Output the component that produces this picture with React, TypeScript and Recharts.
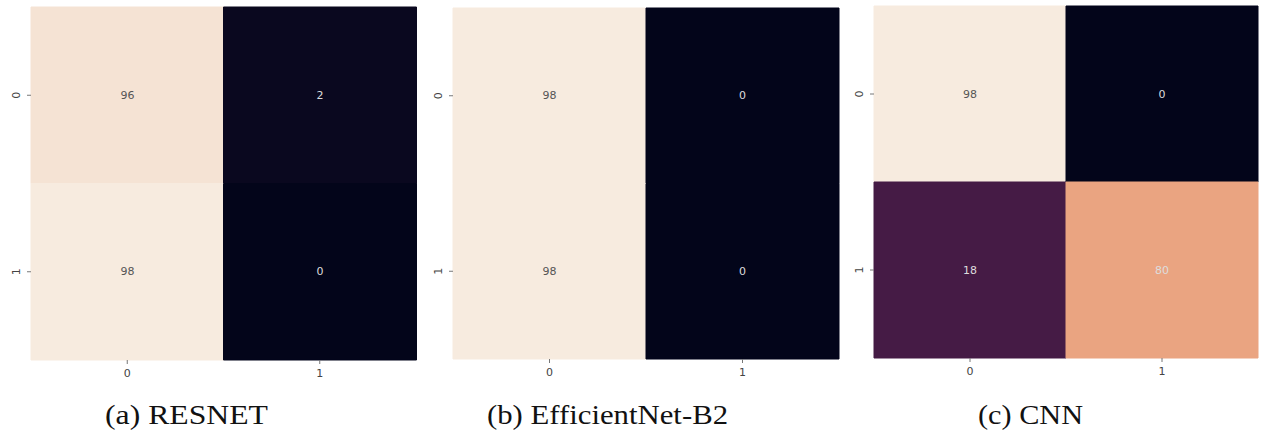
import React from "react";
import { BarChart, Bar, XAxis, YAxis, Cell, LabelList } from "recharts";

// ---- data ----
const CLASSES = ["0", "1"];
const RESNET = [
  [96, 2],
  [98, 0],
];
const EFFNET = [
  [98, 0],
  [98, 0],
];
const CNN = [
  [98, 0],
  [18, 80],
];
const CAPTIONS = ["(a) RESNET", "(b) EfficientNet-B2", "(c) CNN"];

// ---- style: seaborn "rocket"-like colormap stops (slightly muted like the reference) ----
const ROCKET: [number, string][] = [
  [0, "#03051a"],
  [1 / 7, "#35193e"],
  [2 / 7, "#6c1f55"],
  [3 / 7, "#ad1759"],
  [4 / 7, "#e13342"],
  [5 / 7, "#e47a55"],
  [6 / 7, "#ecb593"],
  [1, "#f7ebdf"],
];

function hex(c: string) {
  return [1, 3, 5].map((i) => parseInt(c.slice(i, i + 2), 16));
}
function rocket(t: number) {
  t = Math.max(0, Math.min(1, t));
  for (let k = 0; k < ROCKET.length - 1; k++) {
    const [p0, c0] = ROCKET[k];
    const [p1, c1] = ROCKET[k + 1];
    if (t <= p1) {
      const f = (t - p0) / (p1 - p0);
      const a = hex(c0);
      const b = hex(c1);
      const m = a.map((v, i) => Math.round(v + (b[i] - v) * f));
      return `rgb(${m[0]},${m[1]},${m[2]})`;
    }
  }
  return ROCKET[ROCKET.length - 1][1];
}

const Y_AXIS_W = 31;
const X_AXIS_H = 30;

type Plot = { left: number; top: number; right: number; bottom: number };

const RotTick = (props: any) => {
  const { x, y, payload } = props;
  return (
    <text
      x={x}
      y={y}
      transform={`rotate(-90, ${x}, ${y})`}
      textAnchor="middle"
      fontSize={11}
      fontFamily="DejaVu Sans"
      fill="#444"
    >
      {CLASSES[Math.floor(payload.value)]}
    </text>
  );
};

const XTick = (props: any) => {
  const { x, y, payload } = props;
  return (
    <text
      x={x}
      y={y}
      dy="0.71em"
      textAnchor="middle"
      fontSize={11}
      fontFamily="DejaVu Sans"
      fill="#444"
    >
      {payload.value}
    </text>
  );
};

function Heatmap({ matrix, plot }: { matrix: number[][]; plot: Plot }) {
  const flat = matrix.flat();
  const vmin = Math.min(...flat);
  const vmax = Math.max(...flat);
  const norm = (v: number) => (vmax === vmin ? 0 : (v - vmin) / (vmax - vmin));
  const data = CLASSES.map((c) => {
    const row: any = { col: c };
    CLASSES.forEach((_, i) => (row[`r${i}`] = 1));
    return row;
  });
  const chartLeft = plot.left - Y_AXIS_W;
  const width = plot.right - chartLeft + 4;
  const height = plot.bottom + X_AXIS_H;
  return (
    <div style={{ position: "absolute", left: chartLeft, top: 0 }}>
      <BarChart
        width={width}
        height={height}
        data={data}
        margin={{ top: plot.top, right: 4, bottom: 0, left: 0 }}
        barCategoryGap={0}
        barGap={0}
      >
        <XAxis
          dataKey="col"
          interval={0}
          height={X_AXIS_H}
          axisLine={false}
          tickSize={4}
          tickMargin={5}
          tickLine={{ stroke: "#777" }}
          tick={<XTick />}
        />
        <YAxis
          type="number"
          domain={[0, CLASSES.length]}
          ticks={CLASSES.map((_, i) => i + 0.5)}
          reversed
          width={Y_AXIS_W}
          axisLine={false}
          tickSize={4}
          tickMargin={7}
          tickLine={{ stroke: "#777" }}
          tick={<RotTick />}
        />
        {CLASSES.map((_, i) => (
          <Bar key={i} dataKey={`r${i}`} stackId="m" isAnimationActive={false}>
            {CLASSES.map((__, j) => {
              const c = rocket(norm(matrix[i][j]));
              return <Cell key={j} fill={c} stroke={c} strokeWidth={1} />;
            })}
            <LabelList
              dataKey={`r${i}`}
              content={(p: any) => {
                const j = p.index;
                const v = matrix[i][j];
                const light = norm(v) > 0.9;
                return (
                  <text
                    x={p.x + p.width / 2}
                    y={p.y + p.height / 2}
                    textAnchor="middle"
                    dominantBaseline="central"
                    fontSize={11}
                    fontFamily="DejaVu Sans"
                    fill={light ? "#555" : "#dddddd"}
                  >
                    {v}
                  </text>
                );
              }}
            />
          </Bar>
        ))}
      </BarChart>
    </div>
  );
}

const PANELS: { matrix: number[][]; plot: Plot; cap: { cx: number; w: number } }[] = [
  { matrix: RESNET, plot: { left: 31, top: 7, right: 416, bottom: 360 }, cap: { cx: 186.5, w: 163 } },
  { matrix: EFFNET, plot: { left: 453, top: 8, right: 839, bottom: 359 }, cap: { cx: 607.5, w: 241 } },
  { matrix: CNN, plot: { left: 874, top: 6, right: 1258, bottom: 358 }, cap: { cx: 1030.5, w: 105 } },
];

export default function App() {
  return (
    <div
      style={{
        position: "absolute",
        left: 0,
        top: 0,
        width: 1263,
        height: 432,
        background: "#fff",
        overflow: "hidden",
      }}
    >
      {PANELS.map((p, k) => (
        <Heatmap key={k} matrix={p.matrix} plot={p.plot} />
      ))}
      <svg
        width={1263}
        height={432}
        style={{ position: "absolute", left: 0, top: 0, pointerEvents: "none" }}
      >
        {PANELS.map((p, k) => (
          <text
            key={k}
            x={p.cap.cx}
            y={424}
            textAnchor="middle"
            fontSize={28}
            fontFamily="Liberation Serif"
            fill="#111"
            textLength={p.cap.w}
            lengthAdjust="spacingAndGlyphs"
          >
            {CAPTIONS[k]}
          </text>
        ))}
      </svg>
    </div>
  );
}
